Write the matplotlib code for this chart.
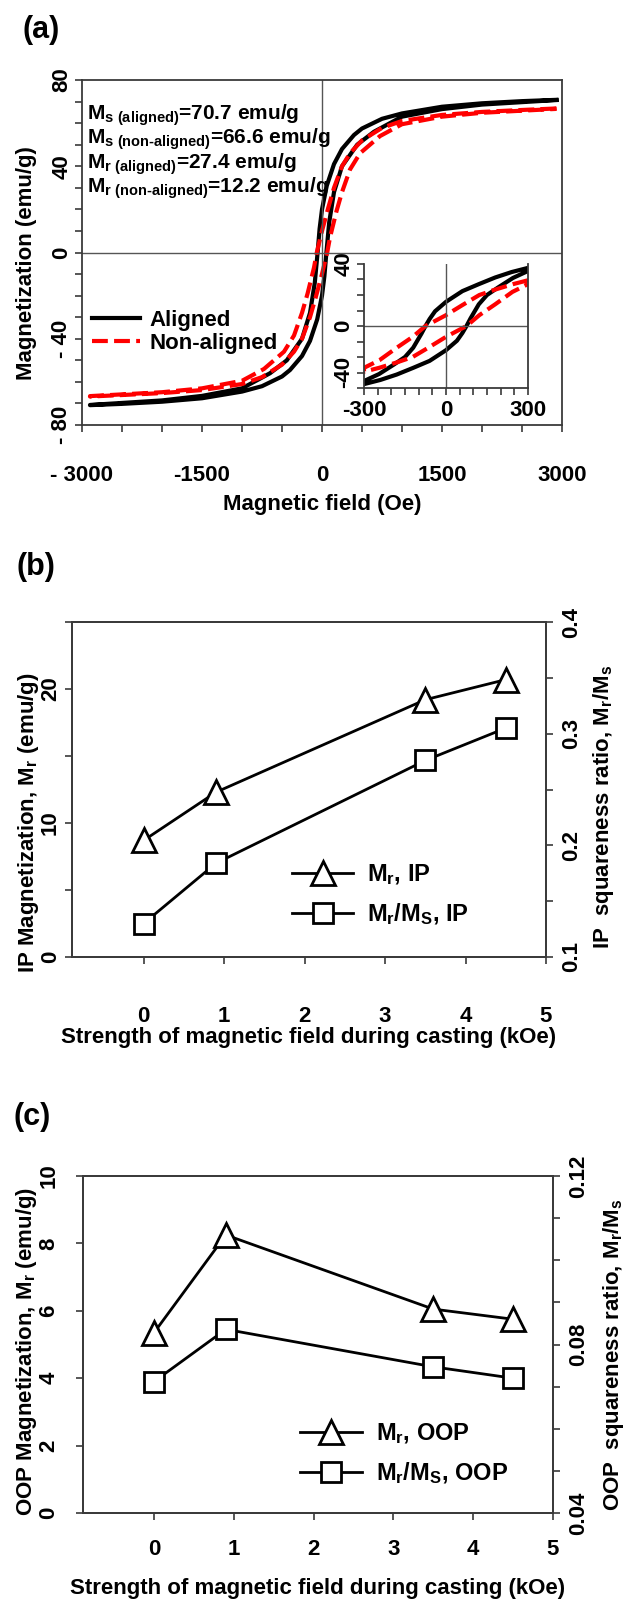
import numpy as np
import matplotlib.pyplot as plt
from matplotlib.ticker import MultipleLocator, FixedLocator
from matplotlib.lines import Line2D

plt.rcParams['font.family'] = 'Liberation Sans'
plt.rcParams['font.weight'] = 'bold'
plt.rcParams['mathtext.fontset'] = 'custom'
plt.rcParams['mathtext.rm'] = 'Liberation Sans:bold'
plt.rcParams['mathtext.it'] = 'Liberation Sans:bold'
plt.rcParams['mathtext.bf'] = 'Liberation Sans:bold'
plt.rcParams['axes.linewidth'] = 1.3
plt.rcParams['axes.edgecolor'] = '#3a3a3a'

# (a) hysteresis loops, main plot (field in Oe, M in emu/g)
h_al_down = [2930, 2500, 2000, 1500, 1000, 750, 500, 400, 250, 150, 60, 0, -30, -55, -90, -150, -250, -440, -650, -1000, -1500, -2000, -2900]
m_al_down = [70.8, 70.2, 69.2, 67.6, 64.5, 62, 57.5, 54.5, 48, 41, 31, 20, 11, 0, -14, -28, -40, -50, -56, -63, -66.5, -68.6, -70.7]
h_al_up = [-2900, -2500, -2000, -1500, -1000, -750, -500, -400, -250, -150, -60, 0, 30, 55, 90, 150, 250, 440, 650, 1000, 1500, 2000, 2930]
m_al_up = [-70.8, -70.2, -69.2, -67.6, -64.5, -62, -57.5, -54.5, -48, -41, -31, -20, -11, 0, 14, 28, 40, 50, 56, 63, 66.5, 68.6, 70.7]

h_na_down = [2930, 2500, 2000, 1500, 1000, 750, 500, 350, 250, 150, 80, 0, -65, -100, -180, -250, -350, -475, -725, -1000, -1500, -2000, -2900]
m_na_down = [66.8, 66.1, 65.2, 63.8, 61, 57.8, 52, 46, 40, 30, 21, 10, 0, -7, -19, -28, -38.5, -46, -54, -59.5, -63, -64.8, -66.6]
h_na_up = [-2900, -2500, -2000, -1500, -1000, -750, -500, -350, -250, -150, -80, 0, 65, 100, 180, 250, 350, 475, 725, 1000, 1500, 2000, 2930]
m_na_up = [-66.8, -66.1, -65.2, -63.8, -61, -57.8, -52, -46, -40, -30, -21, -10, 0, 7, 19, 28, 38.5, 46, 54, 59.5, 63, 64.8, 66.6]

# (a) inset, low-field part of the loops
hi_al_down = [300, 240, 180, 120, 60, 0, -40, -60, -75, -90, -120, -150, -190, -245, -300]
mi_al_down = [37.5, 34.8, 31.3, 27, 22.5, 15.6, 9.5, 4.5, 0, -5, -14, -20, -24.8, -31, -35.5]
hi_al_up = [-300, -240, -180, -120, -60, 0, 40, 60, 75, 90, 120, 150, 190, 245, 300]
mi_al_up = [-37.5, -34.8, -31.3, -27, -22.5, -15.6, -9.5, -4.5, 0, 5, 14, 20, 24.8, 31, 35.5]

hi_na_down = [300, 245, 180, 122, 60, 0, -75, -122, -180, -243, -300]
mi_na_down = [29.5, 27, 23.5, 20, 13.5, 7, 0, -7, -14, -22, -27]
hi_na_up = [-300, -245, -180, -122, -60, 0, 75, 122, 180, 243, 300]
mi_na_up = [-29.5, -27, -23.5, -20, -13.5, -7, 0, 7, 14, 22, 27]

ann_lines = [r'M$_{\mathregular{s\ (aligned)}}$=70.7 emu/g',
             r'M$_{\mathregular{s\ (non\text{-}aligned)}}$=66.6 emu/g',
             r'M$_{\mathregular{r\ (aligned)}}$=27.4 emu/g',
             r'M$_{\mathregular{r\ (non\text{-}aligned)}}$=12.2 emu/g']

# (b), (c) remanence vs casting field
cast_field = [0, 0.9, 3.5, 4.5]
mr_ip = [8.7, 12.3, 19.2, 20.7]
sq_ip = [0.130, 0.184, 0.276, 0.305]
mr_oop = [5.35, 8.25, 6.05, 5.75]
sq_oop = [0.0712, 0.0836, 0.0747, 0.0720]

W, H = 629, 1600
fig = plt.figure(figsize=(W / 100, H / 100), dpi=100)


def rect(l, t, r, b):
    return [l / W, 1 - b / H, (r - l) / W, (b - t) / H]


FS = 16
tick_kw = dict(direction='out', length=5, width=1.2, color='#3a3a3a')
DASH = (3.8, 1.5)

# ---------------- (a)
ax = fig.add_axes(rect(82, 80, 562, 425))
ax.plot(h_al_down + h_al_up, m_al_down + m_al_up, color='black', lw=3, label='Aligned')
ax.plot(h_na_down + h_na_up, m_na_down + m_na_up, color='red', lw=3, dashes=DASH, label='Non-aligned')
ax.axhline(0, color='#555555', lw=1)
ax.axvline(0, color='#555555', lw=1)
ax.set_xlim(-3000, 3000)
ax.set_ylim(-80, 80)
ax.xaxis.set_major_locator(FixedLocator([-3000, -1500, 0, 1500, 3000]))
ax.xaxis.set_minor_locator(MultipleLocator(500))
ax.set_xticklabels(['- 3000', '-1500', '0', '1500', '3000'])
ax.yaxis.set_major_locator(FixedLocator([-80, -40, 0, 40, 80]))
ax.yaxis.set_minor_locator(MultipleLocator(10))
ax.set_yticklabels(['- 80', '- 40', '0', '40', '80'])
ax.tick_params(which='both', **tick_kw)
ax.tick_params(axis='x', labelsize=FS, pad=24)
ax.tick_params(axis='y', labelsize=FS, pad=2, labelrotation=90)
for t in ax.get_yticklabels():
    t.set_va('center')
ax.set_xlabel('Magnetic field (Oe)', fontsize=FS, fontweight='bold')
ax.xaxis.set_label_coords(0.5, -0.2)
ax.set_ylabel('Magnetization (emu/g)', fontsize=FS, fontweight='bold')
ax.yaxis.set_label_coords(-0.094, 0.47)
for i, s in enumerate(ann_lines):
    ax.text(0.01, 0.885 - i * 0.071, s, transform=ax.transAxes, fontsize=15, va='baseline')
ax.legend(loc='center left', bbox_to_anchor=(0.02, 0.27), frameon=False, fontsize=FS,
          handlelength=2.2, handletextpad=0.4, labelspacing=0.1, borderpad=0, borderaxespad=0)
fig.text(22 / W, 1 - 30 / H, '(a)', fontsize=22, fontweight='bold', va='center')

# inset
axi = fig.add_axes(rect(364, 264, 528, 388))
axi.patch.set_alpha(0)
axi.plot(hi_al_down + hi_al_up, mi_al_down + mi_al_up, color='black', lw=3)
axi.plot(hi_na_down + hi_na_up, mi_na_down + mi_na_up, color='red', lw=3, dashes=DASH)
axi.axhline(0, color='#555555', lw=1)
axi.axvline(0, color='#555555', lw=1)
axi.set_xlim(-300, 300)
axi.set_ylim(-40, 40)
axi.spines['top'].set_visible(False)
axi.xaxis.set_major_locator(FixedLocator([-300, 0, 300]))
axi.xaxis.set_minor_locator(MultipleLocator(50))
axi.yaxis.set_major_locator(FixedLocator([-40, 0, 40]))
axi.yaxis.set_minor_locator(MultipleLocator(10))
axi.set_xticklabels(['-300', '0', '300'])
axi.set_yticklabels(['-40', '0', '40'])
axi.tick_params(which='both', **tick_kw)
axi.tick_params(axis='x', labelsize=FS, pad=4)
axi.tick_params(axis='y', labelsize=FS, pad=2, labelrotation=90)
for t in axi.get_yticklabels():
    t.set_va('center')
axi.get_yticklabels()[0].set_va('bottom')


# ---------------- (b), (c)
def remanence_panel(box, left_ticks, left_labels, right_lim, right_ticks, right_labels,
                    mr, sq, tag, left_label, right_label, xpad, ylab_l, ylab_r, xlab_y, leg_xy, ypad_l):
    ax = fig.add_axes(rect(*box))
    ax2 = ax.twinx()
    ax.plot(cast_field, mr, color='black', lw=2, marker='^', ms=17, mfc='white', mec='black', mew=2)
    ax2.plot(cast_field, sq, color='black', lw=2, marker='s', ms=14, mfc='white', mec='black', mew=2)
    ax.set_xlim(-0.89, 5)
    ax.set_ylim(left_ticks[0], left_ticks[-1])
    ax2.set_ylim(*right_lim)
    ax.xaxis.set_major_locator(FixedLocator([0, 1, 2, 3, 4, 5]))
    ax.yaxis.set_major_locator(FixedLocator(left_ticks))
    ax.set_yticklabels(left_labels)
    ax2.yaxis.set_major_locator(FixedLocator(right_ticks))
    ax2.set_yticklabels(right_labels)
    for a in (ax, ax2):
        a.tick_params(which='both', **tick_kw)
        a.tick_params(axis='y', labelsize=FS, labelrotation=90)
    ax.tick_params(axis='x', labelsize=FS, pad=xpad)
    ax.tick_params(axis='y', pad=ypad_l)
    ax2.tick_params(axis='y', pad=6)
    for t in ax.get_yticklabels() + ax2.get_yticklabels():
        t.set_va('center')
    ax.set_xlabel('Strength of magnetic field during casting (kOe)', fontsize=FS, fontweight='bold')
    ax.xaxis.set_label_coords(0.5, xlab_y)
    ax.set_ylabel(left_label, fontsize=FS, fontweight='bold')
    ax.yaxis.set_label_coords(*ylab_l)
    ax2.set_ylabel(right_label, fontsize=FS, fontweight='bold')
    ax2.yaxis.set_label_coords(*ylab_r)
    handles = [Line2D([], [], color='black', lw=2, marker='^', ms=17, mfc='white', mec='black', mew=2),
               Line2D([], [], color='black', lw=2, marker='s', ms=14, mfc='white', mec='black', mew=2)]
    ax2.legend(handles, [r'M$_\mathregular{r}$, ' + tag, r'M$_\mathregular{r}$/M$_\mathregular{S}$, ' + tag],
               loc='center left', bbox_to_anchor=leg_xy, frameon=False, fontsize=FS + 1, numpoints=1,
               handlelength=2.6, handletextpad=0.6, labelspacing=0.6, borderpad=0, borderaxespad=0)
    return ax


remanence_panel((72, 622, 546, 957), [0, 5, 10, 15, 20, 25], ['0', '', '10', '', '20', ''],
                (0.1, 0.4), [0.1, 0.15, 0.2, 0.25, 0.3, 0.35, 0.4],
                ['0.1', '', '0.2', '', '0.3', '', '0.4'], mr_ip, sq_ip, 'IP',
                r'IP Magnetization, M$_\mathregular{r}$ (emu/g)',
                r'IP  squareness ratio, M$_\mathregular{r}$/M$_\mathregular{s}$',
                30, (-0.065, 0.40), (1.095, 0.448), -0.209, (0.464, 0.185), 3)
fig.text(16 / W, 1 - 567 / H, '(b)', fontsize=22, fontweight='bold', va='center')

remanence_panel((83, 1176, 553, 1513), [0, 2, 4, 6, 8, 10], ['0', '2', '4', '6', '8', '10'],
                (0.04, 0.12), [0.04, 0.05, 0.06, 0.07, 0.08, 0.09, 0.10, 0.11, 0.12],
                ['0.04', '', '', '', '0.08', '', '', '', '0.12'], mr_oop, sq_oop, 'OOP',
                r'OOP Magnetization, M$_\mathregular{r}$ (emu/g)',
                r'OOP  squareness ratio, M$_\mathregular{r}$/M$_\mathregular{s}$',
                14, (-0.094, 0.48), (1.102, 0.47), -0.193, (0.462, 0.175), 12)
fig.text(14 / W, 1 - 1117 / H, '(c)', fontsize=22, fontweight='bold', va='center')

fig.savefig('out.png', dpi=100)
